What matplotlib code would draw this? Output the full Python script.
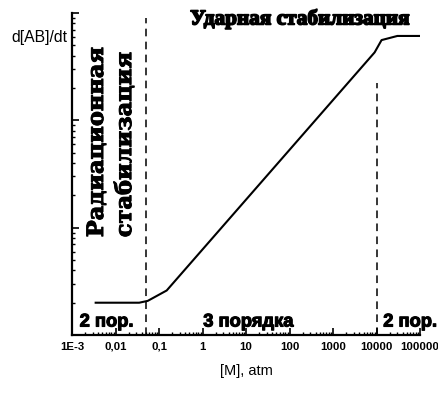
import numpy as np
import matplotlib.pyplot as plt
import matplotlib.patheffects as pe
from matplotlib.ticker import LogLocator, FixedLocator, NullFormatter

# Pressure dependence of the recombination rate
M = [0.0035, 0.035, 0.055, 0.15, 9000, 13000, 30000, 100000]
rate = [2.0, 2.0, 2.08, 2.6, 430, 560, 612, 612]

# Tick labels on the pressure axis
tick_vals = [1e-3, 1e-2, 1e-1, 1, 10, 100, 1000, 10000, 100000]
tick_labels = ['1E-3', '0,01', '0,1', '1', '10', '100', '1000', '10000', '100000']

# Borders between the regimes
border_low = 0.05
border_high = 10000

fig = plt.figure(figsize=(4.39, 3.96), dpi=100)
ax = fig.add_axes([0.164, 0.154, 0.793, 0.813])

ax.plot(M, rate, color='black', lw=1.5)

ax.set_xscale('log')
ax.set_yscale('log')
ax.set_xlim(1e-3, 1e5)
ax.set_ylim(1, 1000)

dash = (0, (5, 3.5))
ax.plot([border_low, border_low], [1, 900], color='black', lw=1.1, ls=dash)
ax.plot([border_high, border_high], [1, 225], color='black', lw=1.1, ls=dash)

for s in ['top', 'right']:
    ax.spines[s].set_visible(False)
for s in ['left', 'bottom']:
    ax.spines[s].set_linewidth(1.6)

ax.xaxis.set_major_locator(FixedLocator(tick_vals))
ax.set_xticklabels(tick_labels, fontsize=8.2, fontweight='bold', family='Liberation Sans')
ax.xaxis.set_minor_locator(LogLocator(base=10, subs=np.arange(2, 10), numticks=20))
ax.xaxis.set_minor_formatter(NullFormatter())
ax.yaxis.set_major_locator(LogLocator(base=10, numticks=10))
ax.yaxis.set_minor_locator(LogLocator(base=10, subs=np.arange(2, 10), numticks=20))
ax.yaxis.set_major_formatter(NullFormatter())
ax.yaxis.set_minor_formatter(NullFormatter())
ax.tick_params(which='major', direction='in', length=5, width=1.2, pad=5)
ax.tick_params(which='minor', direction='in', length=2.5, width=1)

ax.set_xlabel('[M], atm', fontsize=10.5, family='Liberation Sans', labelpad=9)
fig.text(0.153, 0.905, 'd[AB]/dt', fontsize=11.3, family='Liberation Sans',
         ha='right', va='center')

# Regime annotations
ax.text(0.655, 0.981, 'Ударная стабилизация', transform=ax.transAxes,
        ha='center', va='center', fontsize=15.3, family='Liberation Serif',
        fontweight='bold', path_effects=[pe.withStroke(linewidth=1.2, foreground='black')])
serif = dict(family='DejaVu Serif', fontweight='heavy', color='black',
             rotation=90, ha='center', va='bottom', fontsize=16.2,
             path_effects=[pe.withStroke(linewidth=0.7, foreground='black')])
fig.text(0.221, 0.401, 'Радиационная', **serif)
fig.text(0.285, 0.401, 'стабилизация', **serif)

bold_sans = dict(family='Liberation Sans', fontweight='bold', color='black',
                 va='bottom', ha='left', fontsize=13.2, transform=ax.transAxes,
                 path_effects=[pe.withStroke(linewidth=0.8, foreground='black')])
ax.text(0.022, 0.014, '2 пор.', **bold_sans)
ax.text(0.377, 0.014, '3 порядка', **bold_sans)
ax.text(0.894, 0.014, '2 пор.', **bold_sans)

fig.savefig('out.png', dpi=100)
